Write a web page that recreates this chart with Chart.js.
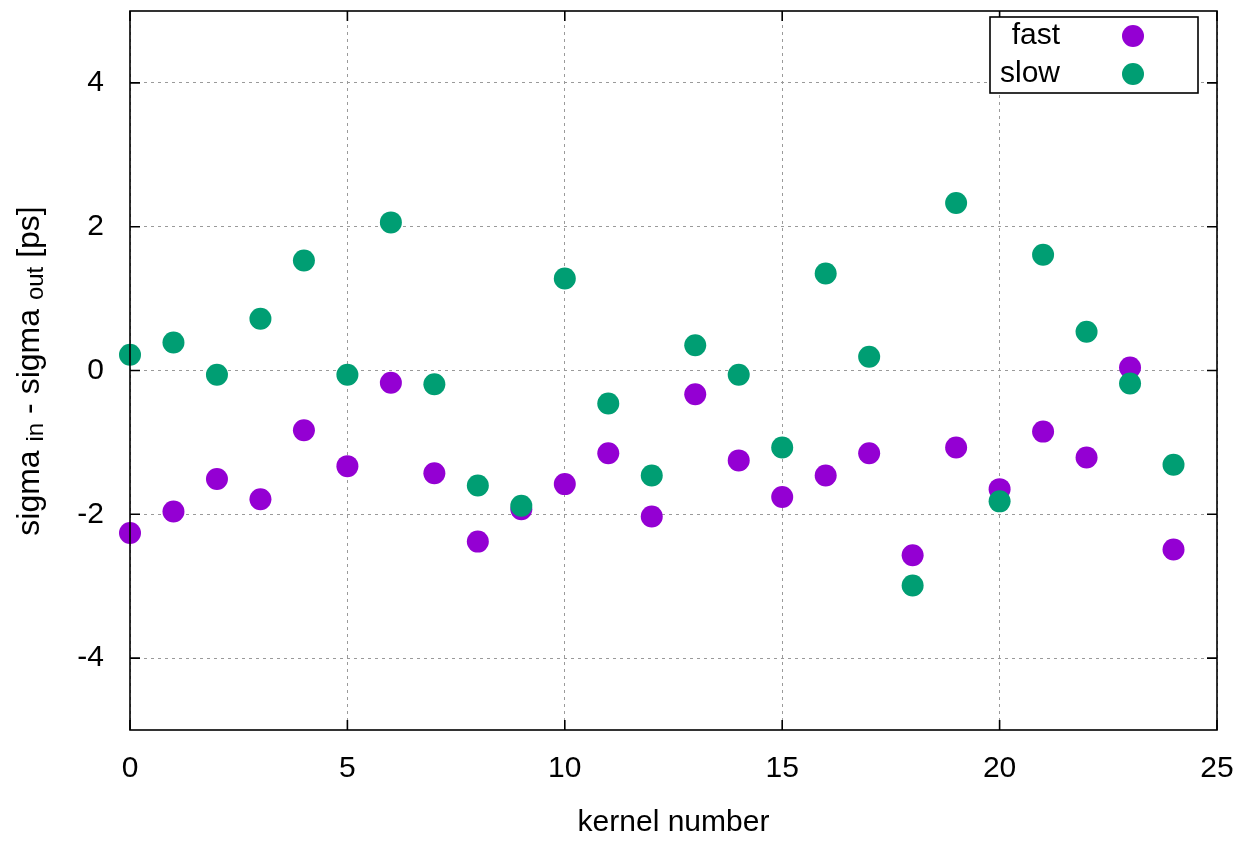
<!DOCTYPE html>
<html lang="en">
<head>
<meta charset="UTF-8">
<title>sigma in - sigma out per kernel</title>
<script src="https://cdn.jsdelivr.net/npm/chart.js"></script>
<style>
  html, body { margin: 0; padding: 0; background: #fff; }
  #wrap { width: 1251px; height: 841px; position: relative; }
</style>
</head>
<body>
<div id="wrap"><canvas id="grafico"></canvas></div>

<script>
// data
const kernels = [0, 1, 2, 3, 4, 5, 6, 7, 8, 9, 10, 11, 12, 13, 14, 15, 16, 17, 18, 19, 20, 21, 22, 23, 24];
const fastVals = [-2.26, -1.96, -1.51, -1.79, -0.83, -1.33, -0.17, -1.43, -2.38, -1.93,
                  -1.58, -1.15, -2.03, -0.33, -1.25, -1.76, -1.46, -1.15, -2.57, -1.07,
                  -1.65, -0.85, -1.21, 0.04, -2.49];
const slowVals = [0.22, 0.39, -0.06, 0.72, 1.53, -0.06, 2.06, -0.19, -1.60, -1.88,
                  1.28, -0.46, -1.46, 0.35, -0.06, -1.07, 1.35, 0.19, -2.99, 2.33,
                  -1.82, 1.61, 0.54, -0.18, -1.31];
const xTicks = [0, 5, 10, 15, 20, 25];
const yTicks = [-4, -2, 0, 2, 4];
const seriesNames = ['fast', 'slow'];
const seriesColors = ['#9400d3', '#009e73'];

const fonte = 'Liberation Sans, Arial, sans-serif';

function pontos(vals) {
    return kernels.map(function (k, i) { return { x: k, y: vals[i] }; });
}

function semPadding(s) {
    s.paddingTop = 0;
    s.paddingBottom = 0;
    s.paddingLeft = 0;
    s.paddingRight = 0;
}

// frame, inward ticks (all four sides), legend and y title
const gnuplotExtras = {
    id: 'gnuplotExtras',
    afterDatasetsDraw(chart) {
        const ctx = chart.ctx;
        const a = chart.chartArea;
        const sx = chart.scales.x;
        const sy = chart.scales.y;
        const tick = 10;

        ctx.save();
        ctx.strokeStyle = '#000';
        ctx.lineWidth = 1.6;
        ctx.beginPath();
        sx.ticks.forEach(function (t) {
            const px = sx.getPixelForValue(t.value);
            ctx.moveTo(px, a.bottom); ctx.lineTo(px, a.bottom - tick);
            ctx.moveTo(px, a.top); ctx.lineTo(px, a.top + tick);
        });
        sy.ticks.forEach(function (t) {
            const py = sy.getPixelForValue(t.value);
            ctx.moveTo(a.left, py); ctx.lineTo(a.left + tick, py);
            ctx.moveTo(a.right, py); ctx.lineTo(a.right - tick, py);
        });
        ctx.stroke();
        ctx.strokeRect(a.left, a.top, a.right - a.left, a.bottom - a.top);

        // legend box
        const lx = 990, ly = 17, lw = 208, lh = 76;
        ctx.fillStyle = '#fff';
        ctx.fillRect(lx, ly, lw, lh);
        ctx.strokeRect(lx, ly, lw, lh);
        ctx.font = '30px ' + fonte;
        ctx.textAlign = 'right';
        ctx.textBaseline = 'middle';
        seriesNames.forEach(function (nome, i) {
            const cy = ly + 19 + i * 38;
            ctx.fillStyle = '#000';
            ctx.fillText(nome, lx + 70, cy);
            ctx.fillStyle = seriesColors[i];
            ctx.beginPath();
            ctx.arc(lx + 143, cy, 11, 0, Math.PI * 2);
            ctx.fill();
        });

        // y title with subscripts
        const partes = [
            { t: 'sigma ', s: 32, d: 0 },
            { t: 'in', s: 24, d: 6 },
            { t: ' - sigma ', s: 32, d: 0 },
            { t: 'out', s: 24, d: 6 },
            { t: ' [ps]', s: 32, d: 0 }
        ];
        let total = 0;
        partes.forEach(function (p) {
            ctx.font = p.s + 'px ' + fonte;
            p.w = ctx.measureText(p.t).width;
            total += p.w;
        });
        ctx.translate(30, 371);
        ctx.rotate(-Math.PI / 2);
        ctx.fillStyle = '#000';
        ctx.textAlign = 'left';
        ctx.textBaseline = 'middle';
        let cx = -total / 2;
        partes.forEach(function (p) {
            ctx.font = p.s + 'px ' + fonte;
            ctx.fillText(p.t, cx, p.d);
            cx += p.w;
        });
        ctx.restore();
    }
};

new Chart(document.getElementById('grafico'), {
    type: 'scatter',
    data: {
        datasets: [
            {
                label: seriesNames[0],
                data: pontos(fastVals),
                backgroundColor: seriesColors[0],
                borderWidth: 0,
                pointRadius: 11,
                pointHoverRadius: 11,
                clip: false,
                order: 2
            },
            {
                label: seriesNames[1],
                data: pontos(slowVals),
                backgroundColor: seriesColors[1],
                borderWidth: 0,
                pointRadius: 11,
                pointHoverRadius: 11,
                clip: false,
                order: 1
            }
        ]
    },
    options: {
        responsive: true,
        maintainAspectRatio: false,
        animation: false,
        layout: { padding: { left: 0, right: 34, top: 10, bottom: 0 } },
        plugins: {
            legend: { display: false },
            tooltip: { enabled: false }
        },
        scales: {
            x: {
                type: 'linear',
                min: 0,
                max: 25,
                afterBuildTicks: function (s) { s.ticks = xTicks.map(function (v) { return { value: v }; }); },
                afterFit: function (s) { s.height = 111; semPadding(s); },
                grid: { color: '#9a9a9a', lineWidth: 1, drawTicks: false },
                border: { display: false, dash: [3, 4] },
                ticks: { color: '#000', font: { family: fonte, size: 30 }, padding: 21, maxRotation: 0 },
                title: { display: true, text: 'kernel number', color: '#000', font: { family: fonte, size: 30 }, padding: { top: 0, bottom: 0 } }
            },
            y: {
                type: 'linear',
                min: -5,
                max: 5,
                afterBuildTicks: function (s) { s.ticks = yTicks.map(function (v) { return { value: v }; }); },
                afterFit: function (s) { s.width = 130; semPadding(s); },
                grid: { color: '#9a9a9a', lineWidth: 1, drawTicks: false },
                border: { display: false, dash: [3, 4] },
                ticks: { color: '#000', font: { family: fonte, size: 30 }, padding: 26 }
            }
        }
    },
    plugins: [gnuplotExtras]
});
</script>
</body>
</html>
